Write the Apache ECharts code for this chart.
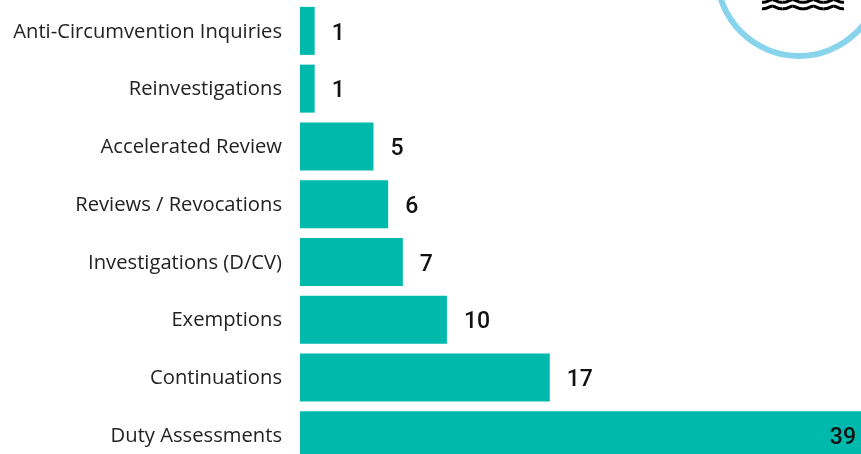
<!DOCTYPE html>
<html>
<head>
<meta charset="utf-8">
<style>
html, body { margin: 0; padding: 0; background: #fff; }
#chart { width: 861px; height: 454px; }
</style>
<script src="https://cdn.jsdelivr.net/npm/echarts@6/dist/echarts.min.js"></script>
</head>
<body>
<div id="chart"></div>
<script>
const categories = ['Anti-Circumvention Inquiries', 'Reinvestigations', 'Accelerated Review', 'Reviews / Revocations', 'Investigations (D/CV)', 'Exemptions', 'Continuations', 'Duty Assessments'];
const values = [1, 1, 5, 6, 7, 10, 17, 39];

const myc = echarts.init(document.getElementById('chart'));

// wave lines of the cropped icon, top right
function wave(y) {
    let parts = [];
    for (let x = 762; x < 844; x += 20.5) {
        parts.push({
            type: 'bezierCurve',
            shape: { x1: x, y1: y + 1.3, cpx1: x + 5, cpy1: y + 2, cpx2: x + 7, cpy2: y - 1.5, x2: x + 10.25, y2: y - 1.3 },
            style: { fill: null, stroke: '#000', lineWidth: 3 },
            silent: true
        });
        parts.push({
            type: 'bezierCurve',
            shape: { x1: x + 10.25, y1: y - 1.3, cpx1: x + 13.5, cpy1: y - 1.5, cpx2: x + 15.5, cpy2: y + 2, x2: x + 20.5, y2: y + 1.3 },
            style: { fill: null, stroke: '#000', lineWidth: 3 },
            silent: true
        });
    }
    return { type: 'group', children: parts };
}

myc.setOption({
    animation: false,
    grid: { left: 300, top: 2, width: 573, height: 462, outerBoundsMode: 'none' },
    xAxis: { type: 'value', min: 0, max: 39, show: false },
    yAxis: {
        type: 'category',
        inverse: true,
        data: categories,
        axisLine: { show: false },
        axisTick: { show: false },
        axisLabel: { margin: 18, verticalAlign: 'top', padding: [-9, 0, 0, 0], fontFamily: 'Open Sans', fontSize: 20.2, color: '#222' }
    },
    series: [{
        type: 'bar',
        data: values.map((v, i) => ({
            value: v,
            label: i === values.length - 1 ? { position: 'insideRight', distance: 17 } : { position: 'right', distance: 17 }
        })),
        barWidth: 48,
        itemStyle: { color: '#00b9ad' },
        label: { show: true, offset: [0, 3], fontFamily: 'Roboto', fontSize: 23, fontWeight: 500, color: '#111' }
    }],
    graphic: [
        {
            type: 'circle',
            shape: { cx: 799, cy: -26, r: 82 },
            style: { fill: '#fff', stroke: '#88d4ec', lineWidth: 6 },
            silent: true
        },
        wave(1),
        wave(7.5)
    ]
});
</script>
</body>
</html>
